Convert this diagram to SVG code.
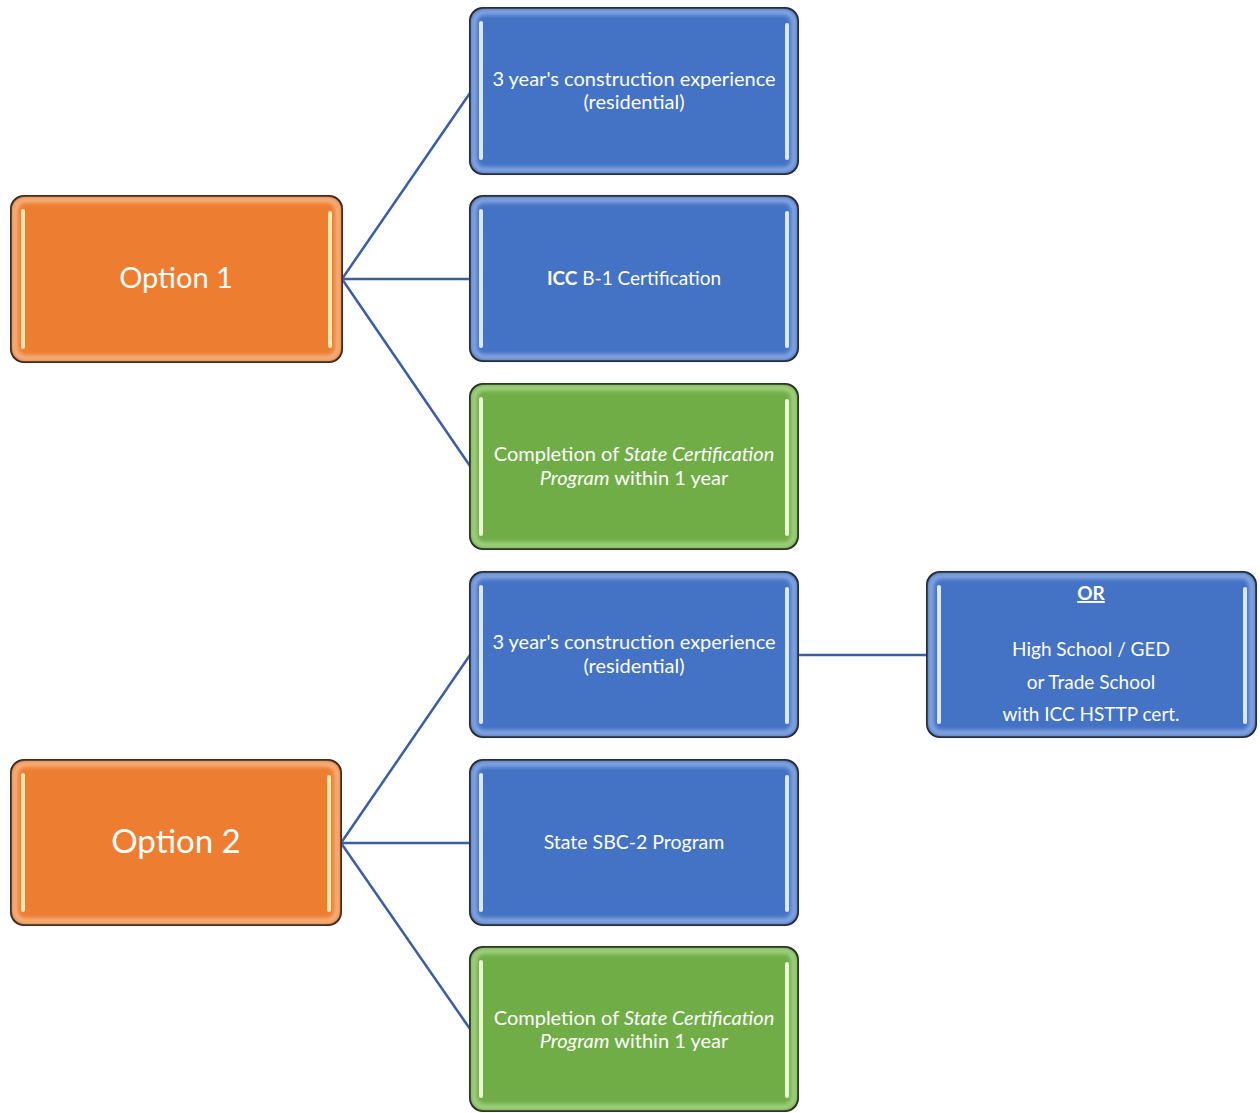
<svg xmlns="http://www.w3.org/2000/svg" width="1260" height="1113" viewBox="0 0 1260 1113">
<style>
.box{stroke:#111;stroke-width:2}
.orange{fill:#ED7D31}
.blue{fill:#4472C4}
.green{fill:#70AD47}
.glow{fill:none;stroke-width:5;filter:url(#blur)}
.go{stroke:#F8B88A}
.gb{stroke:#8FAEE6}
.gg{stroke:#A9D68A}
.strip{stroke-width:4;stroke-linecap:round}
.so{stroke:#FFE9B0}
.sb{stroke:#DCE8FB}
.sg{stroke:#EAF7D2}
.t{font-family:Lato,"Open Sans","Liberation Sans",sans-serif;fill:#fff;text-anchor:middle}
.s{font-size:19px}
.m{font-size:20px}
.big{font-size:29px}
.conn{stroke:#3A5DA8;stroke-width:2.5;fill:none}
</style>
<defs>
<filter id="blur" x="-5%" y="-5%" width="110%" height="110%"><feGaussianBlur stdDeviation="2"/></filter>
</defs>
<rect width="1260" height="1113" fill="#fff"/>
<g id="connectors">
<path class="conn" d="M342 279 L470 93 M342 279 L470 279 M342 279 L470 466"/>
<path class="conn" d="M341 843 L470 655 M341 843 L470 843 M341 843 L470 1029"/>
<path class="conn" d="M798 655 L927 655"/>
</g>
<g id="option1">
<rect class="box orange" x="11" y="196" width="331" height="166" rx="13"/>
<rect class="glow go" x="15" y="200" width="323" height="158" rx="10"/>
<line class="strip so" x1="23" y1="211" x2="23" y2="347"/>
<line class="strip so" x1="330" y1="213" x2="330" y2="346"/>
<text class="t big" x="176" y="288">Option 1</text>
</g>
<g id="exp1">
<rect class="box blue" x="470" y="8" width="328" height="166" rx="13"/>
<rect class="glow gb" x="474" y="12" width="320" height="158" rx="10"/>
<line class="strip sb" x1="481" y1="23" x2="481" y2="158"/>
<line class="strip sb" x1="787" y1="25" x2="787" y2="158"/>
<text class="t m" x="634" y="86">3 year's construction experience</text>
<text class="t m" x="634" y="109">(residential)</text>
</g>
<g id="icc">
<rect class="box blue" x="470" y="196" width="328" height="165" rx="13"/>
<rect class="glow gb" x="474" y="200" width="320" height="157" rx="10"/>
<line class="strip sb" x1="481" y1="211" x2="481" y2="346"/>
<line class="strip sb" x1="787" y1="213" x2="787" y2="346"/>
<text class="t s" x="634" y="285"><tspan font-weight="bold">ICC</tspan> B-1 Certification</text>
</g>
<g id="state1">
<rect class="box green" x="470" y="384" width="328" height="165" rx="13"/>
<rect class="glow gg" x="474" y="388" width="320" height="157" rx="10"/>
<line class="strip sg" x1="481" y1="399" x2="481" y2="534"/>
<line class="strip sg" x1="787" y1="401" x2="787" y2="534"/>
<text class="t m" x="634" y="461">Completion of <tspan font-style="italic">State Certification</tspan></text>
<text class="t m" x="634" y="485"><tspan font-style="italic">Program</tspan> within 1 year</text>
</g>
<g id="exp2">
<rect class="box blue" x="470" y="572" width="328" height="165" rx="13"/>
<rect class="glow gb" x="474" y="576" width="320" height="157" rx="10"/>
<line class="strip sb" x1="481" y1="587" x2="481" y2="722"/>
<line class="strip sb" x1="787" y1="589" x2="787" y2="722"/>
<text class="t m" x="634" y="649">3 year's construction experience</text>
<text class="t m" x="634" y="673">(residential)</text>
</g>
<g id="or">
<rect class="box blue" x="927" y="572" width="329" height="165" rx="13"/>
<rect class="glow gb" x="931" y="576" width="321" height="157" rx="10"/>
<line class="strip sb" x1="939" y1="587" x2="939" y2="722"/>
<line class="strip sb" x1="1245" y1="589" x2="1245" y2="722"/>
<text class="t s" x="1091" y="600" font-weight="bold" text-decoration="underline">OR</text>
<text class="t s" x="1091" y="656">High School / GED</text>
<text class="t s" x="1091" y="689">or Trade School</text>
<text class="t s" x="1091" y="721">with ICC HSTTP cert.</text>
</g>
<g id="option2">
<rect class="box orange" x="11" y="760" width="330" height="165" rx="13"/>
<rect class="glow go" x="15" y="764" width="322" height="157" rx="10"/>
<line class="strip so" x1="23" y1="775" x2="23" y2="910"/>
<line class="strip so" x1="329" y1="777" x2="329" y2="910"/>
<text class="t" x="176" y="853" font-size="33px">Option 2</text>
</g>
<g id="sbc">
<rect class="box blue" x="470" y="760" width="328" height="165" rx="13"/>
<rect class="glow gb" x="474" y="764" width="320" height="157" rx="10"/>
<line class="strip sb" x1="481" y1="775" x2="481" y2="910"/>
<line class="strip sb" x1="787" y1="777" x2="787" y2="910"/>
<text class="t" x="634" y="849" font-size="19.5px">State SBC-2 Program</text>
</g>
<g id="state2">
<rect class="box green" x="470" y="947" width="328" height="164" rx="13"/>
<rect class="glow gg" x="474" y="951" width="320" height="156" rx="10"/>
<line class="strip sg" x1="481" y1="962" x2="481" y2="1096"/>
<line class="strip sg" x1="787" y1="964" x2="787" y2="1096"/>
<text class="t m" x="634" y="1025">Completion of <tspan font-style="italic">State Certification</tspan></text>
<text class="t m" x="634" y="1048"><tspan font-style="italic">Program</tspan> within 1 year</text>
</g>
</svg>
